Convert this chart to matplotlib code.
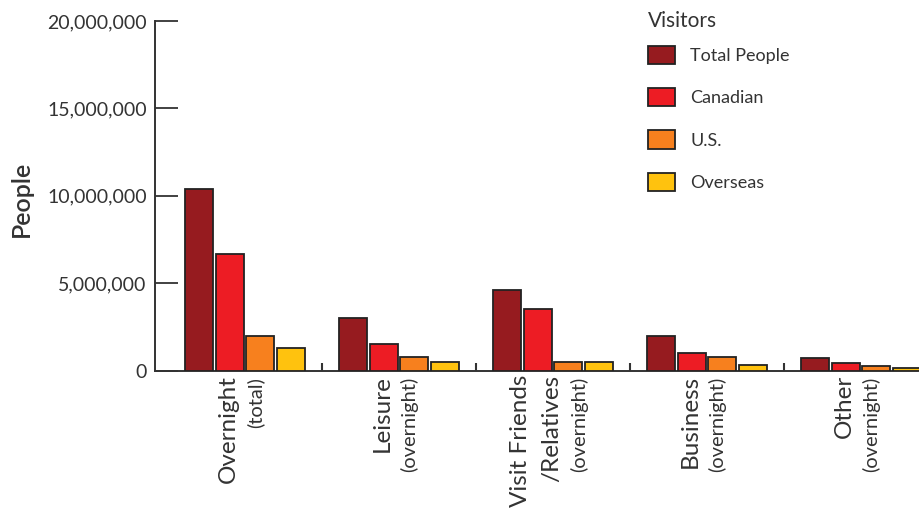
import matplotlib.pyplot as plt
import numpy as np
from matplotlib.ticker import FuncFormatter

# trip purposes and visitor counts (people)
purposes = [["Overnight"], ["Leisure"], ["Visit Friends", "/Relatives"], ["Business"], ["Other"]]
sublabels = ["(total)", "(overnight)", "(overnight)", "(overnight)", "(overnight)"]
series = ["Total People", "Canadian", "U.S.", "Overseas"]
total_people = [10400000, 3000000, 4630000, 1980000, 720000]
canadian = [6670000, 1530000, 3540000, 1030000, 430000]
us = [2000000, 780000, 480000, 780000, 230000]
overseas = [1260000, 500000, 460000, 300000, 130000]

colors = ["#961b1f", "#ed1c24", "#f7801e", "#ffc20e"]
text_col = "#333333"
plt.rcParams["font.family"] = ["Lato", "DejaVu Sans"]

fig = plt.figure(figsize=(9.2, 5.08), dpi=100)
ax = fig.add_axes([155 / 920, (508 - 370.5) / 508, (920 - 155) / 920, 349.5 / 508])

centers = 245 + 154 * np.arange(len(purposes))
step, width = 30.7, 28
for i, (vals, name) in enumerate(zip([total_people, canadian, us, overseas], series)):
    ax.bar(centers + (i - 1.5) * step, vals, width=width, color=colors[i],
           edgecolor="#222222", linewidth=1.3, label=name, zorder=3)

ax.set_xlim(155, 920)
ax.set_ylim(0, 20000000)
ax.set_yticks(np.arange(0, 20000001, 5000000))
ax.yaxis.set_major_formatter(FuncFormatter(lambda v, p: f"{int(v):,}"))
ax.tick_params(axis="y", direction="in", length=16.5, width=1.3, color=text_col,
               labelsize=14, labelcolor=text_col, pad=6)

# short separators between purpose groups
ax.set_xticks(centers[:-1] + 77)
ax.tick_params(axis="x", direction="in", length=6, width=1.5, color=text_col,
               labelbottom=False)

for s in ["top", "right"]:
    ax.spines[s].set_visible(False)
for s in ["left", "bottom"]:
    ax.spines[s].set_color(text_col)
    ax.spines[s].set_linewidth(1.4)
ax.spines["bottom"].set_bounds(155, 918)

ax.set_ylabel("People", fontsize=18, fontweight="semibold", color=text_col)
ax.yaxis.set_label_coords(-0.16, 0.49)

# rotated category labels under each group: main line(s) then a smaller note
line_gap, sub_gap = 31, 27
for c, lines, sub in zip(centers, purposes, sublabels):
    n = len(lines)
    x0 = c - 3 - (line_gap * (n - 1) + sub_gap) / 2
    for k, line in enumerate(lines):
        ax.annotate(line, xy=(x0 + k * line_gap, 0), xycoords=("data", "axes fraction"),
                    xytext=(0, -3), textcoords="offset points", rotation=90,
                    ha="center", va="top", fontsize=17.5, color=text_col)
    ax.annotate(sub, xy=(x0 + (n - 1) * line_gap + sub_gap, 0),
                xycoords=("data", "axes fraction"), xytext=(0, -4.5),
                textcoords="offset points", rotation=90,
                ha="center", va="top", fontsize=14.5, color=text_col)

# legend with its heading drawn separately
leg = ax.legend(loc="upper left", bbox_to_anchor=(0.635, 0.95),
                frameon=False, fontsize=13, handlelength=1.5,
                handleheight=1.17, handletextpad=0.83, labelspacing=1.34,
                borderaxespad=0)
for txt in leg.get_texts():
    txt.set_color(text_col)
fig.text(648 / 920, 1 - 21 / 508, "Visitors", fontsize=15, color=text_col,
         ha="left", va="center")

fig.savefig("out.png", dpi=100)
